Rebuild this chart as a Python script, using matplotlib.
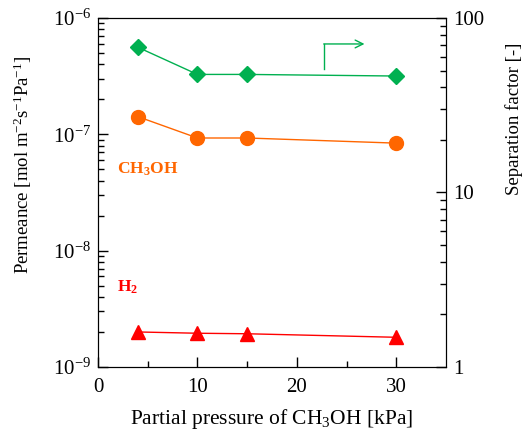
"""
Permeance and separation factor vs CH3OH partial pressure
"""
import matplotlib
matplotlib.use("Agg")
import matplotlib.pyplot as plt
from matplotlib.ticker import FixedLocator, LogLocator, NullFormatter

# data
pressure = [4, 10, 15, 30]
perm_meoh = [1.42e-7, 9.3e-8, 9.3e-8, 8.4e-8]
perm_h2 = [2.0e-9, 1.95e-9, 1.93e-9, 1.8e-9]
sep_factor = [68, 47.5, 47.5, 46.5]

green = "#00B050"
orange = "#FF6600"
red = "#FF0000"

plt.rcParams["font.family"] = ["Liberation Serif", "DejaVu Serif"]
plt.rcParams["mathtext.fontset"] = "custom"
plt.rcParams["mathtext.rm"] = "Liberation Serif"
plt.rcParams["mathtext.it"] = "Liberation Serif:italic"
plt.rcParams["mathtext.bf"] = "Liberation Serif:bold"
plt.rcParams["font.size"] = 15


def main():
    fig = plt.figure(figsize=(5.23, 4.36), dpi=100)
    ax = fig.add_axes([0.1874, 0.1583, 0.6654, 0.8004])
    ax2 = ax.twinx()

    ax.plot(pressure, perm_meoh, "-o", color=orange, lw=1, ms=10, zorder=3)
    ax.plot(pressure, perm_h2, "-^", color=red, lw=1, ms=10, zorder=3)
    ax2.plot(pressure, sep_factor, "-D", color=green, lw=1, ms=8, zorder=3)

    ax.set_xlim(0, 35)
    ax.set_yscale("log")
    ax.set_ylim(1e-9, 1e-6)
    ax2.set_yscale("log")
    ax2.set_ylim(1, 100)

    ax.xaxis.set_major_locator(FixedLocator([0, 10, 20, 30]))
    ax.xaxis.set_minor_locator(FixedLocator([5, 15, 25]))
    ax.set_yticks([1e-9, 1e-8, 1e-7, 1e-6])
    ax.set_yticklabels(["10$^{-9}$", "10$^{-8}$", "10$^{-7}$", "10$^{-6}$"])
    ax.yaxis.set_minor_locator(LogLocator(base=10, subs=range(2, 10)))
    ax.yaxis.set_minor_formatter(NullFormatter())
    ax2.set_yticks([1, 10, 100])
    ax2.set_yticklabels(["1", "10", "100"])
    ax2.yaxis.set_minor_locator(LogLocator(base=10, subs=range(2, 10)))
    ax2.yaxis.set_minor_formatter(NullFormatter())

    for a in (ax, ax2):
        a.tick_params(which="major", direction="in", length=7, width=1, labelsize=15)
        a.tick_params(which="minor", direction="in", length=4, width=1)
    ax.tick_params(axis="x", which="both", top=False)
    ax.tick_params(axis="x", which="major", pad=8)
    ax.tick_params(axis="y", which="major", pad=5)
    ax2.tick_params(axis="y", which="major", pad=5)

    ax.set_xlabel("Partial pressure of CH$_3$OH [kPa]", fontsize=15.5, labelpad=7)
    ax.set_ylabel("Permeance [mol m$^{-2}$s$^{-1}$Pa$^{-1}$]", fontsize=13.5)
    ax.yaxis.set_label_coords(-0.183, 0.58)
    ax2.set_ylabel("Separation factor [-]", fontsize=13.5)
    ax2.yaxis.set_label_coords(1.17, 0.71)

    ax.text(1.9, 5.0e-8, r"CH$_{\mathbf{3}}$OH", color=orange, fontsize=12.5,
            fontweight="bold", ha="left", va="center")
    ax.text(1.9, 4.8e-9, r"H$_{\mathbf{2}}$", color=red, fontsize=12.5,
            fontweight="bold", ha="left", va="center")

    # arrow pointing to the right axis
    ax2.annotate("", xy=(26.8, 71), xytext=(22.7, 71),
                 arrowprops=dict(arrowstyle="->", color=green, lw=1,
                                 mutation_scale=14, shrinkA=0, shrinkB=0))
    ax2.plot([22.7, 22.7], [51, 71], color=green, lw=1)

    fig.savefig("out.png", dpi=100)


if __name__ == "__main__":
    main()
